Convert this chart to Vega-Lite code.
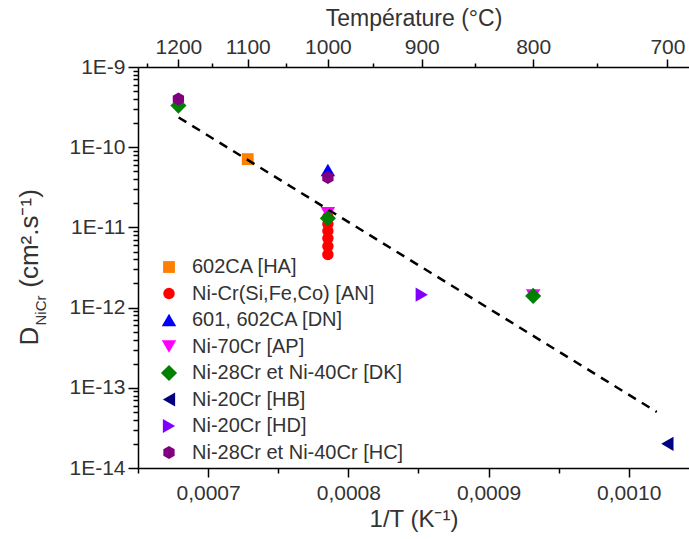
{
  "$schema": "https://vega.github.io/schema/vega-lite/v6.json",
  "width": 551,
  "height": 401,
  "autosize": {"type": "none"},
  "padding": {"left": 138, "top": 67, "right": 0, "bottom": 71},
  "background": "white",
  "config": {
    "view": {"stroke": null},
    "font": "Liberation Sans",
    "axis": {
      "grid": false,
      "domainColor": "black",
      "domainWidth": 1.5,
      "tickColor": "black",
      "tickWidth": 1.5,
      "labelColor": "#333333",
      "titleColor": "#333333",
      "labelFont": "Liberation Sans",
      "titleFont": "Liberation Sans",
      "labelFontSize": 21,
      "titleFontSize": 23,
      "titleFontWeight": "normal",
      "labelFlush": false,
      "labelOverlap": false
    },
    "legend": {
      "labelFont": "Liberation Sans",
      "labelFontSize": 20,
      "labelColor": "#333333",
      "labelLimit": 0
    }
  },
  "datasets": {
    "points": [
      {"series": "602CA [HA]", "invT": 0.00072826, "D": 7.1e-11},
      {"series": "Ni-Cr(Si,Fe,Co) [AN]", "invT": 0.00078544, "D": 1.35e-11},
      {"series": "Ni-Cr(Si,Fe,Co) [AN]", "invT": 0.00078544, "D": 1.1e-11},
      {"series": "Ni-Cr(Si,Fe,Co) [AN]", "invT": 0.00078544, "D": 9.0e-12},
      {"series": "Ni-Cr(Si,Fe,Co) [AN]", "invT": 0.00078544, "D": 7.3e-12},
      {"series": "Ni-Cr(Si,Fe,Co) [AN]", "invT": 0.00078544, "D": 5.8e-12},
      {"series": "Ni-Cr(Si,Fe,Co) [AN]", "invT": 0.00078544, "D": 4.6e-12},
      {"series": "601, 602CA [DN]", "invT": 0.00078544, "D": 5.2e-11},
      {"series": "Ni-70Cr [AP]", "invT": 0.00078544, "D": 1.5e-11},
      {"series": "Ni-70Cr [AP]", "invT": 0.00093184, "D": 1.41e-12},
      {"series": "Ni-28Cr et Ni-40Cr [DK]", "invT": 0.00067882, "D": 3.3e-10},
      {"series": "Ni-28Cr et Ni-40Cr [DK]", "invT": 0.00078544, "D": 1.3e-11},
      {"series": "Ni-28Cr et Ni-40Cr [DK]", "invT": 0.00093184, "D": 1.4e-12},
      {"series": "Ni-20Cr [HB]", "invT": 0.00102759, "D": 2.0e-14},
      {"series": "Ni-20Cr [HD]", "invT": 0.0008524, "D": 1.45e-12},
      {"series": "Ni-28Cr et Ni-40Cr [HC]", "invT": 0.00067882, "D": 4.0e-10},
      {"series": "Ni-28Cr et Ni-40Cr [HC]", "invT": 0.00078544, "D": 4.2e-11}
    ],
    "fit": [
      {"invT": 0.000679, "D": 2.35e-10},
      {"invT": 0.00102, "D": 5.0e-14}
    ]
  },
  "layer": [
    {
      "data": {"name": "points"},
      "mark": {"type": "point", "filled": true, "opacity": 1, "strokeWidth": 0},
      "encoding": {
        "x": {
          "field": "invT",
          "type": "quantitative",
          "scale": {"domain": [0.00065, 0.001043], "nice": false, "zero": false},
          "axis": {
            "orient": "bottom",
            "values": [0.00065, 0.0007, 0.00075, 0.0008, 0.00085, 0.0009, 0.00095, 0.001],
            "labelExpr": "round(datum.value*100000) % 10 == 0 ? replace(format(datum.value, '.4f'), '.', ',') : ''",
            "tickSize": {"condition": {"test": "round(datum.value*100000) % 10 == 0", "value": 9}, "value": 5},
            "labelPadding": 5,
            "title": "1/T (K⁻¹)",
            "titleFontSize": 24,
            "titlePadding": 4
          }
        },
        "y": {
          "field": "D",
          "type": "quantitative",
          "scale": {"type": "log", "domain": [1e-14, 1e-9], "nice": false},
          "axis": {
            "orient": "left",
            "values": [1e-14, 2e-14, 3e-14, 4e-14, 5e-14, 6e-14, 7e-14, 8e-14, 9e-14,
                       1e-13, 2e-13, 3e-13, 4e-13, 5e-13, 6e-13, 7e-13, 8e-13, 9e-13,
                       1e-12, 2e-12, 3e-12, 4e-12, 5e-12, 6e-12, 7e-12, 8e-12, 9e-12,
                       1e-11, 2e-11, 3e-11, 4e-11, 5e-11, 6e-11, 7e-11, 8e-11, 9e-11,
                       1e-10, 2e-10, 3e-10, 4e-10, 5e-10, 6e-10, 7e-10, 8e-10, 9e-10, 1e-9],
            "labelExpr": "abs(log(datum.value)/LN10 - round(log(datum.value)/LN10)) < 0.01 ? '1E' + round(log(datum.value)/LN10) : ''",
            "tickSize": {"condition": {"test": "abs(log(datum.value)/LN10 - round(log(datum.value)/LN10)) < 0.01", "value": 10}, "value": 5},
            "labelPadding": 3,
            "title": "D\u2002\u2002\u2002(cm².s⁻¹)",
            "titleFontSize": 26,
            "titleAngle": -90,
            "titleAlign": "left",
            "titleBaseline": "alphabetic",
            "titleX": -101,
            "titleY": 278
          }
        },
        "color": {
          "field": "series",
          "type": "nominal",
          "sort": null,
          "scale": {
            "domain": ["602CA [HA]", "Ni-Cr(Si,Fe,Co) [AN]", "601, 602CA [DN]", "Ni-70Cr [AP]", "Ni-28Cr et Ni-40Cr [DK]", "Ni-20Cr [HB]", "Ni-20Cr [HD]", "Ni-28Cr et Ni-40Cr [HC]"],
            "range": ["#FF8000", "#FF0000", "#0000FF", "#FF00FF", "#008000", "#000080", "#8000FF", "#800080"]
          },
          "legend": {
            "title": null,
            "orient": "none",
            "legendX": 21,
            "legendY": 190,
            "symbolSize": 140,
            "symbolStrokeWidth": 0,
            "labelOffset": 13,
            "rowPadding": 6.5
          }
        },
        "shape": {
          "field": "series",
          "type": "nominal",
          "sort": null,
          "scale": {
            "domain": ["602CA [HA]", "Ni-Cr(Si,Fe,Co) [AN]", "601, 602CA [DN]", "Ni-70Cr [AP]", "Ni-28Cr et Ni-40Cr [DK]", "Ni-20Cr [HB]", "Ni-20Cr [HD]", "Ni-28Cr et Ni-40Cr [HC]"],
            "range": ["square", "circle", "triangle-up", "triangle-down", "diamond", "triangle-left", "triangle-right", "M0,-1L0.866,-0.5L0.866,0.5L0,1L-0.866,0.5L-0.866,-0.5Z"]
          },
          "legend": {
            "title": null,
            "orient": "none",
            "legendX": 21,
            "legendY": 190,
            "symbolSize": 140,
            "symbolStrokeWidth": 0,
            "labelOffset": 13,
            "rowPadding": 6.5
          }
        },
        "size": {
          "field": "series",
          "type": "ordinal",
          "sort": null,
          "scale": {
            "type": "ordinal",
            "domain": ["602CA [HA]", "Ni-Cr(Si,Fe,Co) [AN]", "601, 602CA [DN]", "Ni-70Cr [AP]", "Ni-28Cr et Ni-40Cr [DK]", "Ni-20Cr [HB]", "Ni-20Cr [HD]", "Ni-28Cr et Ni-40Cr [HC]"],
            "range": [140, 130, 210, 210, 260, 200, 200, 170]
          },
          "legend": null
        }
      }
    },
    {
      "data": {"name": "fit"},
      "mark": {"type": "line", "color": "black", "strokeDash": [9, 7], "strokeWidth": 2.5},
      "encoding": {
        "x": {
          "field": "invT",
          "type": "quantitative",
          "scale": {"domain": [0.00065, 0.001043], "nice": false, "zero": false},
          "axis": {
            "orient": "top",
            "values": [0.00065653, 0.00067882, 0.00070266, 0.00072826, 0.00075583, 0.00078544, 0.00081757, 0.00085240, 0.00089036, 0.00093184, 0.00097737, 0.00102759],
            "labelExpr": "round(1/datum.value - 273.15) % 100 == 0 ? '' + round(1/datum.value - 273.15) : ''",
            "tickSize": {"condition": {"test": "round(1/datum.value - 273.15) % 100 == 0", "value": 8}, "value": 4},
            "labelPadding": 2,
            "title": "Température (°C)",
            "titlePadding": 6
          }
        },
        "y": {
          "field": "D",
          "type": "quantitative",
          "scale": {"type": "log", "domain": [1e-14, 1e-9], "nice": false},
          "axis": {
            "orient": "left",
            "domain": false,
            "ticks": false,
            "labels": false,
            "title": "NiCr",
            "titleFontSize": 15,
            "titleAngle": -90,
            "titleAlign": "left",
            "titleBaseline": "alphabetic",
            "titleX": -93,
            "titleY": 258
          }
        }
      }
    }
  ],
  "resolve": {"axis": {"x": "independent", "y": "independent"}}
}
